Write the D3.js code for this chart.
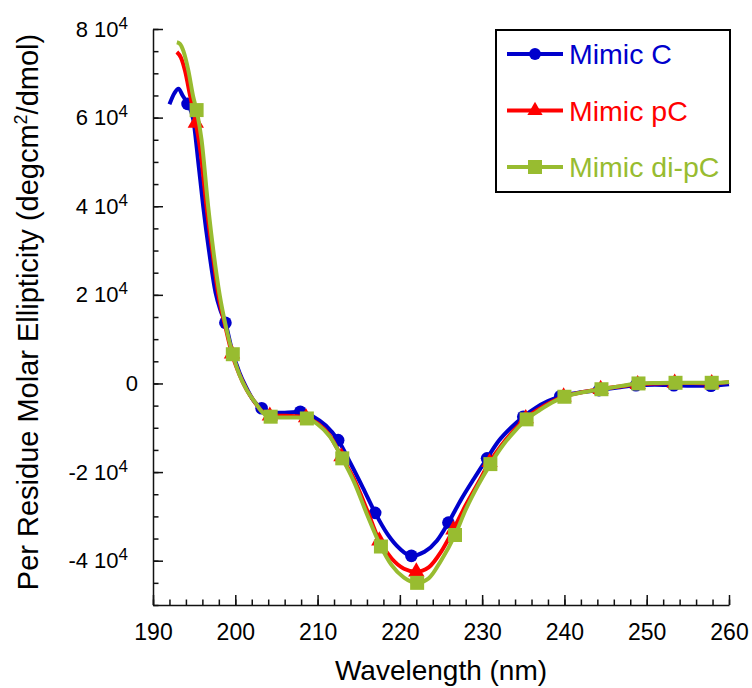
<!DOCTYPE html>
<html>
<head>
<meta charset="utf-8">
<script src="https://cdn.jsdelivr.net/npm/d3@7"></script>
<style>
  body { margin: 0; background: #fff; }
  text { font-family: "Liberation Sans", Arial, sans-serif; fill: #000; }
</style>
</head>
<body>
<svg></svg>
<script>
var width = 752;
var height = 688;

// series names and colours
var seriesNames = ["Mimic C", "Mimic pC", "Mimic di-pC"];
var seriesColors = ["#0000cc", "#ff0000", "#98bc30"];
var seriesSymbols = [d3.symbolCircle, d3.symbolTriangle, d3.symbolSquare];

// Mimic C
var blueWl = [192.0, 192.6, 193.1, 193.6, 194.2, 194.9, 195.5, 196.1, 196.8, 197.6, 198.2, 198.8, 199.6, 200.5, 201.3, 202.2, 203.2, 204.5, 206.0, 207.9,
              209.5, 211.0, 212.5, 214.0, 215.5, 217.0, 218.5, 220.0, 221.4, 223.0, 224.5, 225.9, 227.5, 229.0, 230.6, 232.0, 233.5, 235.0, 236.5, 238.0,
              239.5, 242.0, 244.2, 246.5, 248.7, 251.0, 253.3, 255.5, 257.8, 260.0];
var blueVal = [63000, 65500, 66500, 65000, 63100, 59500, 50000, 40000, 30000, 20500, 16500, 13700, 7500, 2500, -800, -3800, -5600, -6600, -6600, -6400,
               -7500, -9500, -12800, -18000, -23500, -29200, -34000, -37300, -38900, -38000, -35500, -31400, -26000, -21500, -16900, -13000, -10000, -7500, -5500, -4000,
               -2900, -2000, -1500, -900, -400, -300, -400, -500, -500, -200];
var blueMarks = [194.2, 198.8, 203.2, 207.9, 212.5, 217.0, 221.4, 225.9, 230.6, 235.0, 239.5, 244.2, 248.7, 253.3, 257.8];

// Mimic pC
var redWl = [192.9, 193.4, 193.9, 194.5, 195.2, 195.8, 196.5, 197.2, 197.9, 198.8, 199.6, 200.5, 201.4, 202.4, 203.2, 204.2, 206.0, 207.5, 208.6,
             210.0, 211.5, 212.9, 214.4, 216.0, 217.5, 219.0, 220.5, 222.0, 223.5, 225.0, 226.5, 228.0, 229.5, 230.9, 232.4, 233.9, 235.3, 236.9, 238.4,
             239.9, 242.1, 244.4, 246.7, 248.9, 251.2, 253.4, 255.6, 257.9, 260.0];
var redVal = [74800, 73500, 70500, 65000, 58800, 52000, 40000, 30000, 20500, 12800, 6700, 2000, -1500, -4300, -6200, -7300, -7300, -7400, -7700,
              -9000, -11800, -16500, -21500, -28500, -35500, -39500, -41800, -42500, -41500, -38000, -33000, -27500, -22500, -17800, -13800, -10500, -7900, -5800, -4200,
              -3000, -2000, -1300, -700, -200, 0, 100, 100, 0, 300];
var redMarks = [195.2, 199.6, 204.2, 208.6, 212.9, 217.5, 222.0, 226.5, 230.9, 235.3, 239.9, 244.4, 248.9, 253.4, 257.9];

// Mimic di-pC
var greenWl = [192.9, 193.3, 193.7, 194.3, 194.9, 195.3, 195.9, 196.7, 197.4, 198.1, 198.9, 199.7, 200.5, 201.4, 202.5, 203.3, 204.3, 206.0, 207.5, 208.7,
               210.0, 211.5, 213.0, 214.5, 216.0, 217.7, 219.0, 220.5, 222.1, 223.5, 225.0, 226.7, 228.0, 229.5, 231.0, 232.5, 234.0, 235.4, 237.0, 238.5,
               240.0, 242.2, 244.5, 246.8, 249.0, 251.3, 253.5, 255.7, 257.9, 260.0];
var greenVal = [77000, 76600, 75000, 70600, 64600, 61700, 55000, 40000, 29000, 20000, 12500, 6600, 2000, -1500, -4500, -6500, -7500, -7700, -7700, -7900,
                -9200, -12000, -16900, -22500, -29500, -36800, -41000, -43800, -45000, -44000, -40000, -34200, -28500, -23000, -18200, -14000, -10700, -8100, -6000, -4300,
                -3000, -2000, -1300, -600, 0, 100, 150, 150, 150, 350];
var greenMarks = [195.3, 199.7, 204.3, 208.7, 213.0, 217.7, 222.1, 226.7, 231.0, 235.4, 240.0, 244.5, 249.0, 253.5, 257.9];

// axis ticks
var xTicks = [190, 200, 210, 220, 230, 240, 250, 260];
var yTicks = [-40000, -20000, 0, 20000, 40000, 60000, 80000];

var series = [
    { wl: blueWl, val: blueVal, marks: blueMarks },
    { wl: redWl, val: redVal, marks: redMarks },
    { wl: greenWl, val: greenVal, marks: greenMarks }
];

var xScale = d3.scaleLinear()
                .domain([190, 260])
                .range([153, 729]);

var yScale = d3.scaleLinear()
                .domain([-50000, 80000])
                .range([605, 29]);

var svg = d3.select("svg")
            .attr("width", width)
            .attr("height", height);

// minor ticks
svg
    .append("g")
        .attr("transform", "translate(0, 605)")
        .call(d3.axisBottom(xScale).tickValues(d3.range(190, 261, 2)).tickSize(-5.5).tickFormat(""))
        .call(g => g.select(".domain").remove());

svg
    .append("g")
        .attr("transform", "translate(153, 0)")
        .call(d3.axisLeft(yScale).tickValues(d3.range(-50000, 80001, 5000)).tickSize(-5.5).tickFormat(""))
        .call(g => g.select(".domain").remove());

// major x axis
var xAxis = svg
    .append("g")
        .attr("transform", "translate(0, 605)")
        .call(d3.axisBottom(xScale).tickValues(xTicks).tickSize(-10).tickSizeOuter(0).tickPadding(19));

xAxis.selectAll("text")
        .style("font-size", "23px");

// major y axis
var yAxis = svg
    .append("g")
        .attr("transform", "translate(153, 0)")
        .call(d3.axisLeft(yScale).tickValues(yTicks).tickSize(-10).tickSizeOuter(0).tickPadding(25));

yAxis.selectAll(".tick text")
        .style("font-size", "22px")
        .each(function(d) {
            var t = d3.select(this);
            t.text(null);
            if (d === 0) {
                t.attr("x", -15).text("0");
                return;
            }
            t.append("tspan").text(d / 10000 + " 10");
            t.append("tspan")
                .attr("dy", "-8")
                .style("font-size", "17px")
                .text("4");
        });

svg.selectAll(".domain, .tick line")
        .attr("stroke", "#111")
        .attr("stroke-width", 1.5);

// axis titles
svg
    .append("text")
        .attr("x", 441)
        .attr("y", 680)
        .style("font-size", "28px")
        .style("text-anchor", "middle")
        .text("Wavelength (nm)");

var yTitle = svg
    .append("text")
        .attr("transform", "translate(38, 312) rotate(-90)")
        .style("font-size", "29px")
        .style("text-anchor", "middle");

yTitle.append("tspan").text("Per Residue Molar Ellipticity (degcm");
yTitle.append("tspan").attr("dy", -11).style("font-size", "18px").text("2");
yTitle.append("tspan").attr("dy", 11).text("/dmol)");

// curves
var line = d3.line()
            .x(d => xScale(d[0]))
            .y(d => yScale(d[1]))
            .curve(d3.curveMonotoneX);

series.forEach(function(s, i) {
    var pts = s.wl.map((w, j) => [w, s.val[j]]);
    var marks = pts.filter(p => s.marks.indexOf(p[0]) >= 0);

    svg
        .append("path")
            .datum(pts)
            .attr("d", line)
            .attr("fill", "none")
            .attr("stroke", seriesColors[i])
            .attr("stroke-width", 4)
            .attr("stroke-linejoin", "round");

    svg
        .append("g")
            .selectAll("path")
            .data(marks)
            .enter()
            .append("path")
                .attr("transform", d => "translate(" + xScale(d[0]) + ", " + yScale(d[1]) + ")")
                .attr("d", d3.symbol().type(seriesSymbols[i]).size(i === 0 ? 125 : (i === 1 ? 115 : 196)))
                .attr("fill", seriesColors[i]);
});

// legend
var legend = svg
    .append("g")
        .classed("legend", true);

legend
    .append("rect")
        .attr("x", 496)
        .attr("y", 30)
        .attr("width", 234)
        .attr("height", 162)
        .attr("fill", "#fff")
        .attr("stroke", "#000")
        .attr("stroke-width", 2);

seriesNames.forEach(function(name, i) {
    var yy = 54 + i * 56.5;
    legend
        .append("line")
            .attr("x1", 507)
            .attr("x2", 563)
            .attr("y1", yy)
            .attr("y2", yy)
            .attr("stroke", seriesColors[i])
            .attr("stroke-width", 4);
    legend
        .append("path")
            .attr("transform", "translate(535, " + yy + ")")
            .attr("d", d3.symbol().type(seriesSymbols[i]).size(i === 0 ? 110 : (i === 1 ? 100 : 196)))
            .attr("fill", seriesColors[i]);
    legend
        .append("text")
            .attr("x", 569)
            .attr("y", yy + 10)
            .style("font-size", "28.5px")
            .style("fill", seriesColors[i])
            .text(name);
});
</script>
</body>
</html>
